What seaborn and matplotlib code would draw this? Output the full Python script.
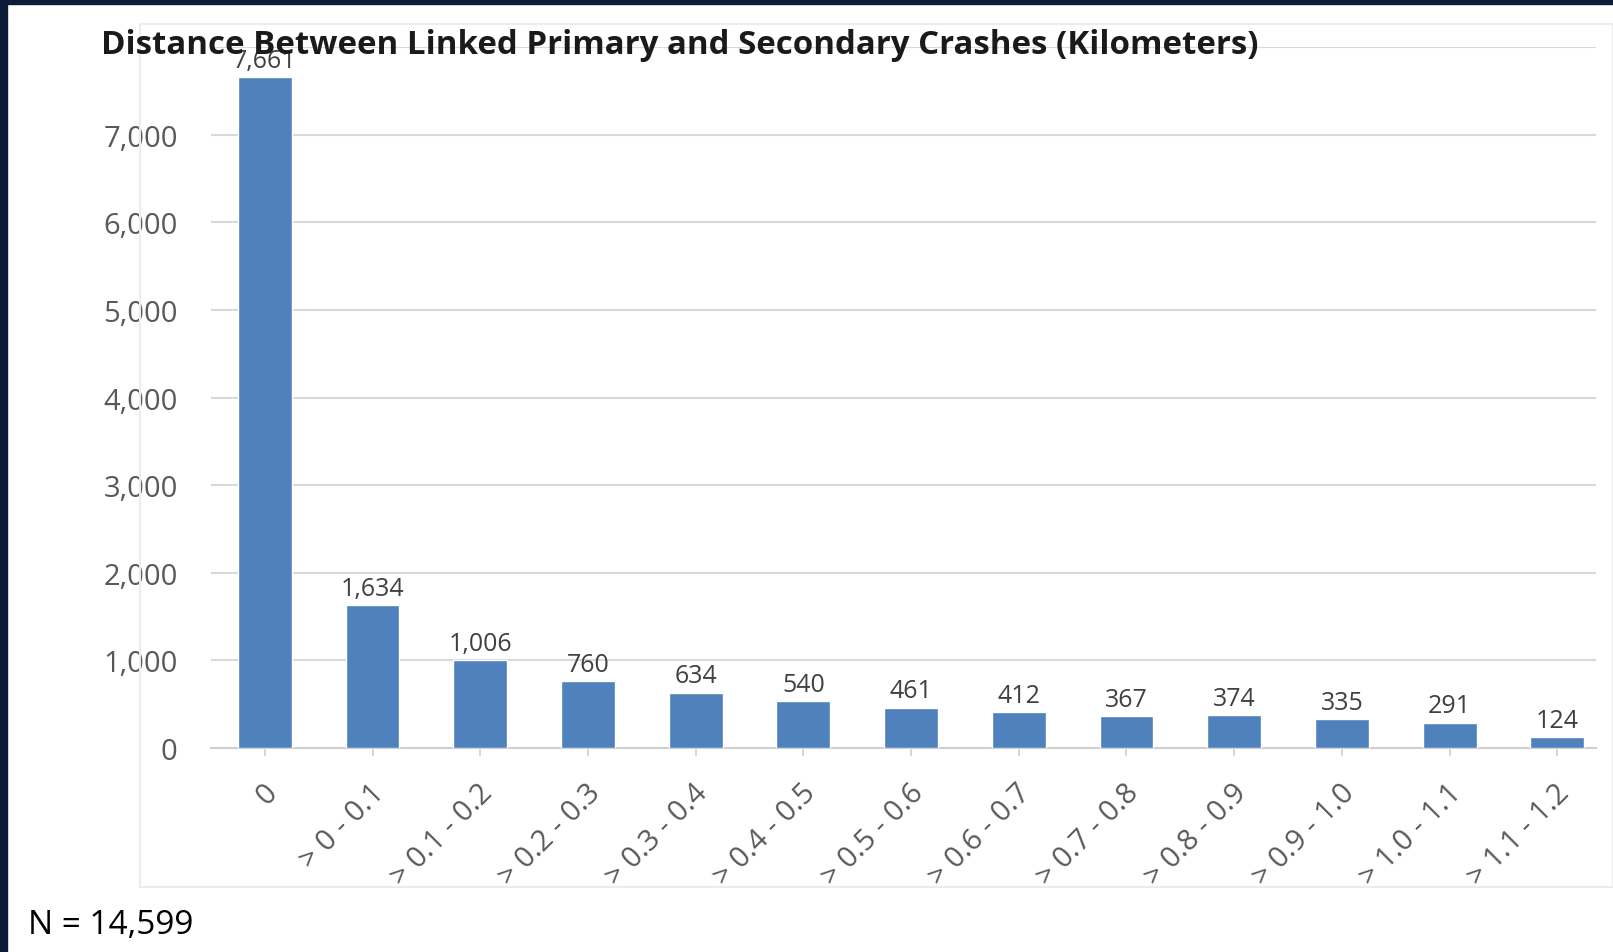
import matplotlib
matplotlib.use("Agg")
import matplotlib.pyplot as plt
import seaborn as sns
import pandas as pd
from matplotlib.patches import Rectangle

categories = ["0", "> 0 - 0.1", "> 0.1 - 0.2", "> 0.2 - 0.3", "> 0.3 - 0.4", "> 0.4 - 0.5",
              "> 0.5 - 0.6", "> 0.6 - 0.7", "> 0.7 - 0.8", "> 0.8 - 0.9", "> 0.9 - 1.0",
              "> 1.0 - 1.1", "> 1.1 - 1.2"]
crashes = [7661, 1634, 1006, 760, 634, 540, 461, 412, 367, 374, 335, 291, 124]
yticks = [0, 1000, 2000, 3000, 4000, 5000, 6000, 7000, 8000]

title = "Distance Between Linked Primary and Secondary Crashes (Kilometers)"
note = "N = 14,599"

sns.set_theme(style="white")
plt.rcParams['font.family'] = ['Open Sans', 'DejaVu Sans']

df = pd.DataFrame({"bin": categories, "count": crashes})

fig = plt.figure(figsize=(16.13, 9.53), dpi=100)
ax = fig.add_axes([0.1308, 0.214, 0.8587, 0.7356])

sns.barplot(data=df, x="bin", y="count", color="#4f81bd", width=0.5,
            saturation=1, ax=ax, zorder=3)

# value labels
for i, v in enumerate(crashes):
    ax.annotate("{:,}".format(v), (i, v), xytext=(0, 3), textcoords="offset points",
                ha="center", va="bottom", fontsize=18, color="#404040", zorder=4)

ax.set_ylim(0, 8000)
ax.set_xlim(-0.5, 12.36)
ax.set_yticks(yticks)
ax.set_yticklabels(["{:,}".format(t) for t in yticks[:-1]] + [""])
ax.yaxis.grid(True, color="#d9d9d9", linewidth=1.5, zorder=0)
ax.xaxis.grid(False)
for s in ["top", "right", "left"]:
    ax.spines[s].set_visible(False)
ax.spines["bottom"].set_color("#d0d0d0")
ax.spines["bottom"].set_linewidth(1.5)
ax.set_xlabel("")
ax.set_ylabel("")
ax.tick_params(axis="y", length=0, pad=24, labelsize=21, labelcolor="#595959")
ax.tick_params(axis="x", bottom=True, length=6, width=1.2, color="#d0d0d0",
               pad=4, labelsize=21, labelcolor="#595959")
for lbl in ax.get_xticklabels():
    lbl.set_rotation(45)
    lbl.set_ha("right")
    lbl.set_va("center")
    lbl.set_rotation_mode("anchor")
    lbl.set_transform(lbl.get_transform() + matplotlib.transforms.ScaledTranslation(0.08, -0.26, fig.dpi_scale_trans))

# chart area frame (faint)
fig.patches.append(Rectangle((140 / 1613, 1 - 888 / 953), (1613 - 140) / 1613, (888 - 25) / 953,
                             transform=fig.transFigure, fill=False,
                             edgecolor="#ececec", linewidth=1.5, zorder=0))

fig.text(101 / 1613, 1 - 46 / 953, title, fontsize=23.8, fontweight="bold",
         color="#1a1a1a", ha="left", va="center")
fig.text(28 / 1613, 1 - 926 / 953, note, fontsize=24, color="black",
         ha="left", va="center")

# dark slide border at top and left
fig.patches.append(Rectangle((0, 1 - 5 / 953), 1, 5 / 953, transform=fig.transFigure,
                             color="#0c1c38", zorder=10))
fig.patches.append(Rectangle((0, 0), 7 / 1613, 1, transform=fig.transFigure,
                             color="#0c1c38", zorder=10))

fig.savefig("out.png", dpi=100)
